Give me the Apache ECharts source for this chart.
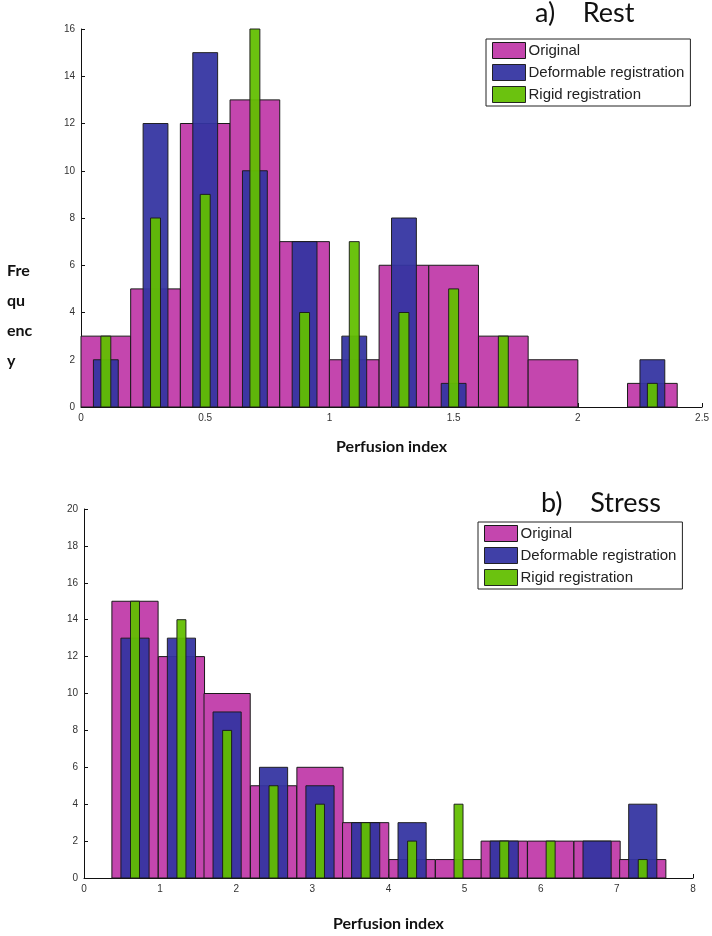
<!DOCTYPE html>
<html>
<head>
<meta charset="utf-8">
<title>Perfusion index histograms</title>
<script src="https://cdn.jsdelivr.net/npm/echarts@6/dist/echarts.min.js"></script>
<style>
  html, body { margin: 0; padding: 0; background: #fff; }
  #chart { width: 712px; height: 936px; }
</style>
</head>
<body>
<div id="chart"></div>
<script>
// Series names
const seriesNames = ['Original', 'Deformable registration', 'Rigid registration'];

// a) Rest: bin centres and counts
const restCenters = [0.1, 0.3, 0.5, 0.7, 0.9, 1.1, 1.3, 1.5, 1.7, 1.9, 2.1, 2.3];
const restOriginal   = [3, 5, 12, 13, 7, 2, 6, 6, 3, 2, 0, 1];
const restDeformable = [2, 12, 15, 10, 7, 3, 8, 1, 0, 0, 0, 2];
const restRigid      = [3, 8, 9, 16, 4, 7, 4, 5, 3, 0, 0, 1];

// b) Stress: bin centres and counts
const stressCenters = [0.67, 1.28, 1.88, 2.49, 3.10, 3.70, 4.31, 4.92, 5.52, 6.13, 6.74, 7.34];
const stressOriginal   = [15, 12, 10, 5, 6, 3, 1, 1, 2, 2, 2, 1];
const stressDeformable = [13, 13, 9, 6, 5, 3, 3, 0, 2, 0, 2, 4];
const stressRigid      = [15, 14, 8, 5, 4, 3, 2, 4, 2, 2, 0, 1];

// Axis ranges: [min, max, interval]
const restXAxis = [0, 2.5, 0.5];
const restYAxis = [0, 16, 2];
const stressXAxis = [0, 8, 1];
const stressYAxis = [0, 20, 2];

const COLORS = ['#C446AE', '#3434A2', '#62BE00'];
const OPAC = [1, 0.94, 0.94];
const EDGE = '#1a1a1a';

const chart = echarts.init(document.getElementById('chart'), null, { renderer: 'canvas' });

// Histogram bars drawn as rectangles spanning [centre - w/2, centre + w/2] x [0, count]
function histSeries(k, gridIdx, centers, counts, barW) {
  return {
    type: 'custom',
    name: seriesNames[k],
    xAxisIndex: gridIdx,
    yAxisIndex: gridIdx,
    z: 2 + k,
    itemStyle: { color: COLORS[k], borderColor: EDGE, borderWidth: 1 },
    encode: { x: 0, y: 1 },
    data: centers.map((c, i) => [c, counts[i]]),
    renderItem: function (params, api) {
      const c = api.value(0), v = api.value(1);
      if (!v) return null;
      const p0 = api.coord([c - barW / 2, v]);
      const p1 = api.coord([c + barW / 2, 0]);
      return {
        type: 'rect',
        shape: { x: p0[0], y: p0[1], width: p1[0] - p0[0], height: p1[1] - p0[1] },
        style: { fill: COLORS[k], stroke: EDGE, lineWidth: 1, opacity: OPAC[k] }
      };
    }
  };
}

function valueAxis(gridIdx, range, extra) {
  return Object.assign({
    type: 'value',
    gridIndex: gridIdx,
    min: range[0], max: range[1], interval: range[2],
    axisLine: { show: true, onZero: false, lineStyle: { color: '#111', width: 1 } },
    axisTick: { show: true, inside: true, length: 4, lineStyle: { color: '#111' } },
    splitLine: { show: false },
    axisLabel: { fontFamily: 'Liberation Sans', fontSize: 10, color: '#333', margin: 6 }
  }, extra || {});
}

function legendAt(left, top) {
  return {
    left: left, top: top,
    orient: 'vertical',
    backgroundColor: '#fff',
    borderColor: '#222', borderWidth: 1, borderRadius: 0,
    padding: [3, 6, 3, 6],
    itemWidth: 33, itemHeight: 16, itemGap: 5,
    selectedMode: false,
    icon: 'rect',
    textStyle: { fontFamily: 'Liberation Sans', fontSize: 15, color: '#222', padding: [0, 0, 0, -2] },
    data: seriesNames.map((n, k) => ({
      name: n,
      itemStyle: { color: COLORS[k], borderColor: EDGE, borderWidth: 1, opacity: OPAC[k] }
    }))
  };
}

const titleStyle = { fontFamily: 'Lato', fontWeight: 'normal', fontSize: 27, color: '#111' };

const option = {
  backgroundColor: '#fff',
  animation: false,
  title: [
    { text: 'a)    Rest', left: 535, top: 0, padding: 0, textStyle: titleStyle },
    { text: 'b)    Stress', left: 541, top: 490, padding: 0, textStyle: titleStyle }
  ],
  legend: [legendAt(486, 39), legendAt(478, 522)],
  grid: [
    { left: 81, top: 29, width: 622, height: 378 },
    { left: 84, top: 509, width: 609, height: 369 }
  ],
  xAxis: [
    valueAxis(0, restXAxis, {
      name: 'Perfusion index', nameLocation: 'middle', nameGap: 32,
      nameTextStyle: { fontFamily: 'Lato', fontWeight: 'bold', fontSize: 16, color: '#111' }
    }),
    valueAxis(1, stressXAxis, {
      name: 'Perfusion index', nameLocation: 'middle', nameGap: 38,
      nameTextStyle: { fontFamily: 'Lato', fontWeight: 'bold', fontSize: 16, color: '#111' }
    })
  ],
  yAxis: [
    valueAxis(0, restYAxis),
    valueAxis(1, stressYAxis)
  ],
  graphic: [
    {
      type: 'text', left: 7, top: 256, z: 10,
      style: {
        text: 'Fre\nqu\nenc\ny', fontFamily: 'Lato', fontWeight: 'bold', fontSize: 16,
        lineHeight: 30, fill: '#111'
      }
    }
  ],
  series: [
    histSeries(0, 0, restCenters, restOriginal, 0.2),
    histSeries(1, 0, restCenters, restDeformable, 0.1),
    histSeries(2, 0, restCenters, restRigid, 0.04),
    histSeries(0, 1, stressCenters, stressOriginal, 0.607),
    histSeries(1, 1, stressCenters, stressDeformable, 0.37),
    histSeries(2, 1, stressCenters, stressRigid, 0.118)
  ]
};

chart.setOption(option);
</script>
</body>
</html>
